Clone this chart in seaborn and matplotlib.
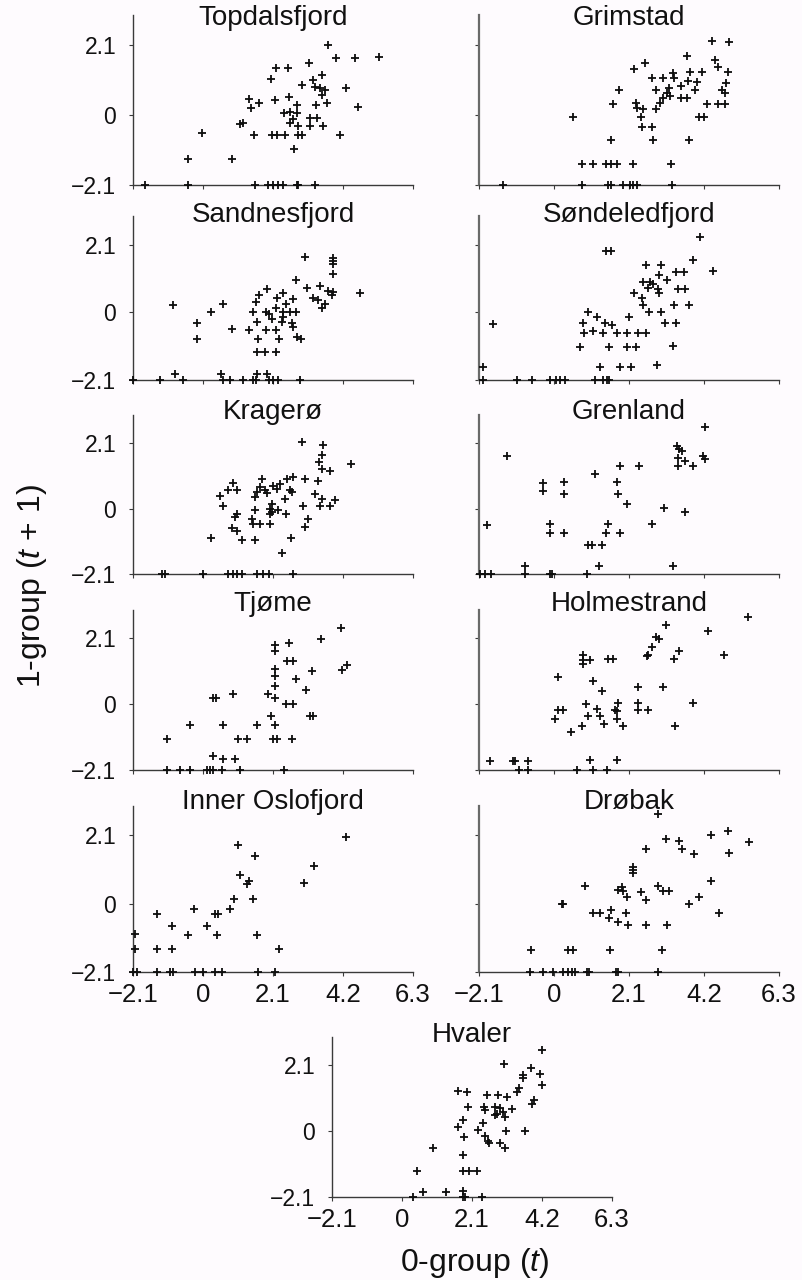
import matplotlib
matplotlib.use("Agg")
import matplotlib.pyplot as plt
import seaborn as sns
import pandas as pd

# ---------------------------------------------------------------- data
# log abundance of 0-group cod in year t (x) against 1-group in year t+1 (y)
topdalsfjord_x = [3.76, 3.98, 4.56, 5.29, 3.19, 2.19, 2.54, 2.03, 3.31, 3.56, 2.96, 3.36, 3.51, 3.66,
                  3.56, 4.29, 1.39, 1.43, 1.69, 2.16, 2.59, 2.81, 3.39, 3.71, 4.64, 2.43, 2.61, 2.81,
                  2.71, 2.61, 2.84, 3.21, 3.41, 3.21, 3.61, 1.19, 1.11, -0.04, 1.53, 2.06, 2.21, 2.46,
                  2.86, 2.96, 4.11, 2.73, -0.44, 0.86,
                  -1.74, -0.44, 1.56, 1.96, 2.11, 2.26, 2.41, 2.81, 2.86, 3.36]
topdalsfjord_y = [2.10, 1.70, 1.70, 1.73, 1.55, 1.40, 1.40, 1.07, 1.05, 1.20, 0.90, 0.85, 0.80, 0.75,
                  0.60, 0.80, 0.48, 0.20, 0.35, 0.45, 0.55, 0.30, 0.30, 0.35, 0.25, 0.05, 0.10, 0.05,
                  -0.13, -0.25, -0.33, -0.10, -0.10, -0.33, -0.33, -0.23, -0.27, -0.55, -0.60, -0.60,
                  -0.60, -0.60, -0.60, -0.60, -0.60, -1.03, -1.33, -1.33,
                  -2.1, -2.1, -2.1, -2.1, -2.1, -2.1, -2.1, -2.1, -2.1, -2.1]

grimstad_x = [4.43, 4.90, 3.71, 2.55, 2.25, 4.51, 4.60, 4.86, 4.13, 3.81, 3.32, 2.73, 3.04, 3.36,
              3.76, 3.99, 4.82, 3.56, 3.23, 3.95, 2.86, 1.83, 4.69, 4.79, 3.15, 3.25, 3.56, 3.71,
              3.06, 2.97, 1.64, 2.30, 4.27, 4.60, 4.79, 2.31, 2.50, 2.86, 0.52, 2.44, 4.07, 4.20,
              2.45, 2.73, 1.59, 2.78, 3.77, 0.79, 1.10, 1.45, 1.59, 1.77, 2.22, 3.27,
              -1.44, 0.79, 1.52, 1.60, 1.92, 2.13, 2.22, 2.31, 3.29]
grimstad_y = [2.23, 2.20, 1.77, 1.55, 1.37, 1.65, 1.45, 1.30, 1.30, 1.30, 1.27, 1.12, 1.12, 1.10,
              1.02, 1.00, 0.97, 0.87, 0.82, 0.75, 0.75, 0.75, 0.75, 0.65, 0.65, 0.57, 0.50, 0.50,
              0.50, 0.35, 0.33, 0.35, 0.33, 0.33, 0.33, 0.20, 0.18, 0.18, -0.07, -0.07, -0.07, -0.07,
              -0.35, -0.35, -0.75, -0.75, -0.75, -1.48, -1.48, -1.48, -1.48, -1.48, -1.48, -1.48,
              -2.1, -2.1, -2.1, -2.1, -2.1, -2.1, -2.1, -2.1, -2.1]

sandnesfjord_x = [3.06, 3.91, 3.91, 3.89, 3.91, 2.79, 3.11, 3.51, 3.76, 3.91, 3.86, 4.71, 3.31, 3.46,
                  3.66, 3.56, 1.91, 1.69, 1.59, 2.41, 2.21, 2.69, 2.49, 2.18, -0.89, 0.61, 0.24, 1.49,
                  1.89, 1.99, 2.39, 2.61, 2.79, 2.39, 2.06, -0.19, 1.61, 2.36, 2.66, 2.71, 0.88, 1.39,
                  1.89, 2.19, -0.19, 1.66, 2.29, 2.81, 2.94, 1.61, 1.86, 2.19,
                  -0.84, 0.54, 1.61, 1.91,
                  -2.09, -1.29, -0.59, 0.61, 0.81, 1.21, 1.51, 1.59, 1.99, 2.11, 2.26, 2.91]
sandnesfjord_y = [1.72, 1.70, 1.60, 1.52, 1.20, 1.02, 0.75, 0.83, 0.68, 0.63, 0.55, 0.62, 0.45, 0.40,
                  0.25, 0.13, 0.73, 0.55, 0.33, 0.60, 0.45, 0.43, 0.27, 0.15, 0.22, 0.25, 0.00, 0.00,
                  0.00, -0.05, 0.00, 0.00, 0.00, -0.15, -0.20, -0.33, -0.30, -0.30, -0.33, -0.45, -0.52,
                  -0.55, -0.55, -0.55, -0.83, -0.83, -0.83, -0.75, -0.83, -1.23, -1.23, -1.23,
                  -1.90, -1.90, -1.90, -1.90,
                  -2.1, -2.1, -2.1, -2.1, -2.1, -2.1, -2.1, -2.1, -2.1, -2.1, -2.1, -2.1]

sondeledfjord_x = [4.09, 1.46, 1.59, 3.88, 2.58, 2.99, 4.44, 3.42, 3.64, 2.95, 3.15, 2.48, 2.69, 2.78,
                   2.64, 2.92, 2.95, 3.48, 3.67, 2.25, 2.45, 2.48, 3.37, 3.79, 2.67, 2.99, 0.94, 1.19,
                   2.11, -1.72, 0.80, 1.43, 1.61, 3.11, 3.42, 0.85, 1.08, 1.38, 1.75, 2.03, 2.36, 2.58,
                   0.73, 1.55, 2.03, 2.30, 3.32, -2.00, 1.29, 1.85, 2.15, 2.87,
                   -2.00, -1.05, -0.63, -0.11, 0.06, 0.17, 0.31, 1.15, 1.38, 1.47, 1.55]
sondeledfjord_y = [2.34, 1.90, 1.90, 1.62, 1.49, 1.49, 1.30, 1.27, 1.27, 1.17, 1.02, 0.95, 0.94, 0.90,
                   0.77, 0.72, 0.62, 0.74, 0.74, 0.62, 0.44, 0.22, 0.22, 0.22, 0.02, 0.02, 0.02, -0.15,
                   -0.15, -0.35, -0.33, -0.33, -0.40, -0.33, -0.33, -0.63, -0.58, -0.63, -0.63, -0.63,
                   -0.63, -0.63, -1.06, -1.06, -1.06, -1.06, -1.03, -1.71, -1.71, -1.71, -1.71, -1.63,
                   -2.1, -2.1, -2.1, -2.1, -2.1, -2.1, -2.1, -2.1, -2.1, -2.1, -2.1]

kragero_x = [2.96, 3.61, 3.56, 3.49, 4.43, 3.56, 3.81, 3.46, 3.06, 2.71, 2.51, 2.31, 1.76, 0.91,
             0.76, 1.03, 0.51, 0.61, 1.71, 1.61, 1.86, 2.11, 2.23, 1.91, 2.61, 2.66, 1.56, 2.46,
             3.36, 3.56, 3.96, 3.01, 3.51, 3.81, 2.06, 2.01, 2.06, 2.26, 2.01, 1.56, 1.03, 0.96,
             2.49, 3.16, 1.46, 1.51, 1.71, 2.01, 3.06, 0.88, 1.01, 0.24, 1.16, 1.56, 2.64, 2.36,
             -1.24, -1.14, 0.01, 0.76, 0.91, 1.01, 1.16, 1.61, 1.81, 1.99, 2.69]
kragero_y = [2.14, 2.05, 1.73, 1.50, 1.44, 1.28, 1.21, 0.88, 0.96, 1.02, 0.96, 0.80, 0.96, 0.82,
             0.59, 0.59, 0.40, 0.09, 0.70, 0.54, 0.61, 0.72, 0.64, 0.51, 0.59, 0.54, 0.37, 0.32,
             0.48, 0.32, 0.27, 0.09, 0.09, 0.09, 0.16, 0.00, -0.11, -0.05, -0.19, -0.05, -0.16,
             -0.27, -0.19, -0.32, -0.35, -0.51, -0.51, -0.51, -0.59, -0.62, -0.73, -0.93, -1.02,
             -1.02, -0.93, -1.44,
             -2.1, -2.1, -2.1, -2.1, -2.1, -2.1, -2.1, -2.1, -2.1, -2.1, -2.1]

grenland_x = [4.23, -1.33, 3.43, 3.51, 3.57, 3.48, 3.67, 3.48, 3.88, 4.16, 4.23, 2.39, 1.85, 1.15,
              -0.32, -0.32, 0.28, 0.28, 1.75, 1.80, 2.03, 3.08, 3.67, -1.89, -0.11, -0.11, 0.28,
              1.52, 1.46, 1.85, 2.73, 0.96, 1.05, 1.35, -0.81, 1.27, 3.32,
              -2.07, -1.93, -1.77, -0.81, -0.11, -0.07, 0.91]
grenland_y = [2.60, 1.70, 2.02, 1.90, 1.85, 1.62, 1.52, 1.35, 1.37, 1.70, 1.60, 1.37, 1.35, 1.12,
              0.82, 0.55, 0.85, 0.48, 0.85, 0.48, 0.15, 0.02, -0.12, -0.53, -0.50, -0.77, -0.77,
              -0.50, -0.77, -0.77, -0.50, -1.18, -1.18, -1.18, -1.85, -1.85, -1.85,
              -2.1, -2.1, -2.1, -2.1, -2.1, -2.1, -2.1]

tjome_x = [4.13, 3.54, 2.59, 2.16, 2.16, 2.51, 2.71, 4.33, 4.16, 2.16, 3.26, 2.16, 2.79, 2.16,
           3.09, 0.89, 1.96, 0.31, 0.39, 2.16, 2.49, 2.71, 2.03, 3.21, 3.31, -0.39, 0.59, 1.63,
           2.16, -1.09, 1.06, 1.33, 2.11, 2.21, 2.66, 0.31, 0.59, 0.96,
           -1.09, -0.69, -0.39, 0.11, 0.21, 0.31, 0.56, 1.11, 2.43]
tjome_y = [2.42, 2.08, 1.94, 1.89, 1.70, 1.37, 1.37, 1.24, 1.10, 1.13, 1.07, 0.89, 0.81, 0.58,
           0.44, 0.32, 0.32, 0.21, 0.21, 0.18, 0.00, 0.00, -0.37, -0.37, -0.37, -0.68, -0.68,
           -0.68, -0.68, -1.10, -1.10, -1.10, -1.10, -1.10, -1.10, -1.66, -1.75, -1.75,
           -2.1, -2.1, -2.1, -2.1, -2.1, -2.1, -2.1, -2.1, -2.1]

holmestrand_x = [5.42, 3.13, 4.32, 2.86, 2.95, 2.73, 2.64, 2.59, 3.51, 3.36, 4.76, 0.80, 0.80, 0.80,
                 1.01, 1.52, 1.66, 0.12, 1.10, 1.35, 2.36, 3.04, 3.88, 0.90, 1.80, 2.36, 0.12, 0.26,
                 1.19, 1.71, 1.77, 2.36, 2.64, 0.03, 0.95, 1.29, 1.77, 1.40, 1.92, 0.79, 3.39, 0.47,
                 -1.79, -1.14, -1.09, -0.72, 1.01, 1.77,
                 -0.97, -0.72, 0.63, 1.08, 1.47]
holmestrand_y = [2.77, 2.52, 2.32, 2.15, 2.07, 1.83, 1.55, 1.52, 1.68, 1.45, 1.55, 1.55, 1.40, 1.27,
                 1.40, 1.45, 1.45, 0.85, 0.75, 0.43, 0.53, 0.53, 0.03, 0.00, 0.05, 0.03, -0.20, -0.20,
                 -0.15, -0.20, -0.23, -0.20, -0.20, -0.47, -0.38, -0.38, -0.48, -0.62, -0.70, -0.70,
                 -0.70, -0.88, -1.80, -1.80, -1.80, -1.80, -1.78, -1.78,
                 -2.1, -2.1, -2.1, -2.1, -2.1]

inner_oslofjord_x = [4.29, 1.04, 1.56, 3.33, 1.11, 1.39, 1.31, 3.03, 0.94, 1.49, 0.81, -0.27, -1.39,
                     0.36, 0.46, -0.94, 0.13, -2.04, -0.44, 0.41, 1.61, -2.04, -1.39, -0.94, 2.28,
                     -2.09, -1.99, -1.39, -0.99, -0.89, -0.24, 0.01, 0.36, 0.56, 1.66, 2.16]
inner_oslofjord_y = [2.04, 1.81, 1.45, 1.15, 0.89, 0.71, 0.61, 0.63, 0.13, 0.13, -0.15, -0.15, -0.31,
                     -0.31, -0.31, -0.69, -0.69, -0.94, -0.97, -0.97, -0.97, -1.40, -1.40, -1.40, -1.38,
                     -2.1, -2.1, -2.1, -2.1, -2.1, -2.1, -2.1, -2.1, -2.1, -2.1, -2.1]

drobak_x = [2.92, 4.86, 4.39, 3.13, 3.51, 3.57, 5.47, 2.58, 3.93, 4.90, 2.20, 2.20, 2.20, 4.39,
            0.87, 2.92, 3.06, 3.23, 1.80, 1.89, 1.92, 2.43, 2.05, 2.58, 4.07, 3.79, 0.21, 0.26,
            1.10, 1.29, 1.59, 1.54, 2.02, 1.80, 2.08, 2.58, 3.17, 4.63, -0.64, 0.40, 0.52, 1.57, 3.03,
            -0.67, -0.30, -0.02, 0.26, 0.38, 0.49, 0.59, 0.91, 0.99, 1.74, 1.80, 2.92]
drobak_y = [2.74, 2.23, 2.11, 1.98, 1.91, 1.67, 1.88, 1.67, 1.53, 1.55, 1.14, 1.04, 0.94, 0.70,
            0.55, 0.55, 0.40, 0.40, 0.43, 0.50, 0.38, 0.35, 0.20, 0.10, 0.20, 0.00, 0.00, 0.00,
            -0.29, -0.29, -0.18, -0.44, -0.29, -0.57, -0.67, -0.67, -0.67, -0.29, -1.41, -1.41,
            -1.41, -1.41, -1.41,
            -2.1, -2.1, -2.1, -2.1, -2.1, -2.1, -2.1, -2.1, -2.1, -2.1, -2.1, -2.1]

hvaler_x = [4.19, 3.07, 3.87, 3.64, 3.62, 4.14, 4.19, 3.52, 3.46, 1.69, 1.96, 2.56, 2.89, 3.14,
            3.96, 3.89, 1.97, 2.46, 2.79, 2.94, 3.29, 2.49, 3.04, 2.84, 3.09, 2.79, 1.84, 2.44,
            1.69, 2.29, 3.12, 3.69, 1.86, 2.49, 2.59, 2.62, 2.94, 3.09, 0.92, 1.82, 0.44, 1.84,
            2.02, 2.24, 0.62, 1.32, 1.82,
            0.32, 1.82, 1.89, 2.39]
hvaler_y = [2.57, 2.15, 2.01, 1.78, 1.70, 1.82, 1.48, 1.36, 1.25, 1.27, 1.24, 1.14, 1.14, 1.09,
            0.98, 0.87, 0.76, 0.76, 0.76, 0.74, 0.69, 0.66, 0.61, 0.55, 0.45, 0.50, 0.34, 0.27,
            0.13, 0.02, 0.00, 0.00, -0.19, -0.16, -0.30, -0.37, -0.37, -0.53, -0.55, -0.76, -1.27,
            -1.27, -1.27, -1.27, -1.93, -1.93, -1.91,
            -2.1, -2.1, -2.1, -2.1]

site_names = ["Topdalsfjord", "Grimstad", "Sandnesfjord", "Søndeledfjord", "Kragerø",
              "Grenland", "Tjøme", "Holmestrand", "Inner Oslofjord", "Drøbak", "Hvaler"]
site_x = [topdalsfjord_x, grimstad_x, sandnesfjord_x, sondeledfjord_x, kragero_x, grenland_x,
          tjome_x, holmestrand_x, inner_oslofjord_x, drobak_x, hvaler_x]
site_y = [topdalsfjord_y, grimstad_y, sandnesfjord_y, sondeledfjord_y, kragero_y, grenland_y,
          tjome_y, holmestrand_y, inner_oslofjord_y, drobak_y, hvaler_y]

axis_ticks = [-2.1, 0, 2.1, 4.2, 6.3]
axis_tick_labels = ["\u22122.1", "0", "2.1", "4.2", "6.3"]
y_ticks = [-2.1, 0, 2.1]
y_tick_labels = ["\u22122.1", "0", "2.1"]

# ---------------------------------------------------------------- style
sns.set_theme(style="ticks")
plt.rcParams["font.family"] = ["Liberation Sans", "DejaVu Sans"]
plt.rcParams["mathtext.fontset"] = "custom"
plt.rcParams["mathtext.it"] = "Liberation Sans:italic"
plt.rcParams["mathtext.rm"] = "Liberation Sans"

W, H = 802, 1280
bg = "#fefbfe"
fig = plt.figure(figsize=(W / 100, H / 100), dpi=100, facecolor=bg)

# panel frames in pixels: (left, top, width, height, title baseline)
col_left = [133, 479]
col_width = [280, 300]
rows = [(15, 185, 25), (216, 380, 222), (415, 574, 419), (610, 770, 611), (806, 972, 809)]
frames = []
for r, (top, bot, tb) in enumerate(rows):
    for c in range(2):
        frames.append((col_left[c], top, col_width[c], bot - top, tb, r, c))
frames.append((332, 1037, 280, 160, 1042, 5, 0))

for i, name in enumerate(site_names):
    left, top, w, h, tb, r, c = frames[i]
    ax = fig.add_axes([left / W, 1 - (top + h) / H, w / W, h / H])
    ax.set_facecolor("none")
    df = pd.DataFrame({"x": site_x[i], "y": site_y[i]})
    sns.scatterplot(data=df, x="x", y="y", ax=ax, marker="+", color="#0d0d0d",
                    s=40, linewidth=1.3, clip_on=False, zorder=3)
    ax.set_xlim(-2.1, 6.3)
    ax.set_ylim(-2.1, 3.0)
    ax.set_xlabel("")
    ax.set_ylabel("")
    sns.despine(ax=ax)
    for sp in ("left", "bottom"):
        ax.spines[sp].set_color("#3a3a3a")
        ax.spines[sp].set_linewidth(1.0)
    if c == 1:
        ax.spines["left"].set_color("#6a6a6a")
        ax.spines["left"].set_linewidth(1.6)
    ax.set_xticks(axis_ticks)
    ax.set_yticks(y_ticks)
    show_x = (r >= 4)
    show_y = (c == 0)
    ax.set_xticklabels(axis_tick_labels if show_x else [])
    ax.set_yticklabels(y_tick_labels if show_y else [])
    ax.tick_params(axis="x", direction="out", length=3, width=0.8, color="#3a3a3a",
                   labelsize=18.5, pad=5, labelcolor="#111111")
    ax.tick_params(axis="y", direction="out", length=3, width=0.8, color="#3a3a3a",
                   labelsize=16.5, pad=9, labelcolor="#111111")
    ax.text(0.5, 1 - (tb - top) / h, name, transform=ax.transAxes, ha="center",
            va="baseline", fontsize=20, color="#111111")

fig.text(32 / W, 1 - 586 / H, "1-group ($t$ + 1)", rotation=90, ha="center", va="center",
         fontsize=23, color="#111111")
fig.text(475 / W, 1 - 1263 / H, "0-group ($t$)", ha="center", va="center",
         fontsize=23, color="#111111")

fig.savefig("out.png", dpi=100, facecolor=bg)
